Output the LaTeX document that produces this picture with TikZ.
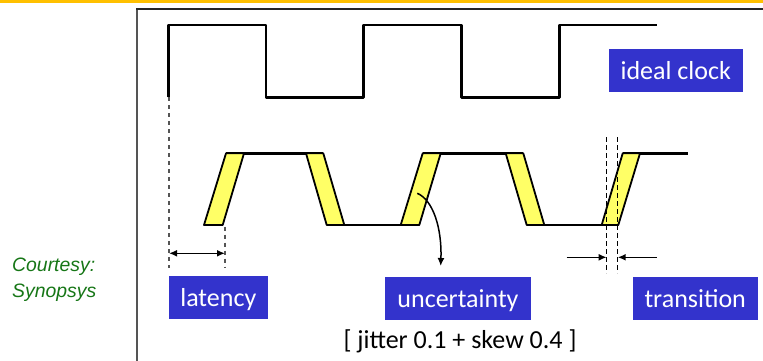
\documentclass[tikz,border=0pt]{standalone}
\usepackage{fontspec}
\setmainfont{Carlito}
\newfontfamily\creditfont{Liberation Sans}
\usetikzlibrary{arrows.meta}
\definecolor{labelblue}{RGB}{51,51,204}
\definecolor{edgeyellow}{RGB}{255,255,102}
\definecolor{topbar}{RGB}{255,192,0}
\definecolor{creditgreen}{RGB}{22,118,22}
\definecolor{framegray}{RGB}{85,85,85}
\begin{document}
\begin{tikzpicture}[x=1pt,y=-1pt,
  tag/.style={fill=labelblue,text=white,inner sep=0pt,minimum height=43pt,
    font=\fontsize{26}{30}\selectfont,text height=18pt,text depth=0pt},
  wave/.style={line width=2.6pt,line join=round},
  edgeband/.style={fill=edgeyellow,draw=black,line width=1.8pt,line join=round},
  guide/.style={draw=framegray,line width=1.4pt,dash pattern=on 4pt off 4pt},
  tguide/.style={draw=black,line width=1pt,dash pattern=on 5pt off 3pt},
  dim/.style={draw=black,line width=1.6pt},
  tip/.style={-{Latex[length=8pt,width=7pt]}}]
\useasboundingbox (0,0) rectangle (763,361);

% top bar and frame
\fill[topbar] (0,0) rectangle (763,3);
\draw[framegray,line width=2pt] (137,361) -- (137,9);
\draw[black!85,line width=1.3pt] (136,9) -- (763,9);

% ideal clock
\draw[wave] (168.3,97.3) -- (168.3,25) -- (266,25) -- (266,97.3) -- (363.3,97.3)
  -- (363.3,25) -- (461.7,25) -- (461.7,97.3) -- (559.3,97.3) -- (559.3,25) -- (656.7,25);
\node[tag,minimum width=133.7pt] (ideal) at (675.8,70.3) {ideal clock};

% real clock: levels
\draw[wave] (226,153.3) -- (323.3,153.3);
\draw[wave] (326.7,225) -- (419.3,225);
\draw[wave] (422.7,153.3) -- (523.3,153.3);
\draw[wave] (526.7,225) -- (618.3,225);
\draw[wave] (622.7,153.3) -- (688.3,153.3);

% real clock: uncertain edges
\draw[edgeband] (204,225) -- (222.7,225) -- (244,153.3) -- (226,153.3) -- cycle;
\draw[edgeband] (306,153.3) -- (323.3,153.3) -- (344.3,225) -- (326.7,225) -- cycle;
\draw[edgeband] (400.7,225) -- (419.3,225) -- (440.7,153.3) -- (422.7,153.3) -- cycle;
\draw[edgeband] (505.7,153.3) -- (523.3,153.3) -- (544.3,225) -- (526.7,225) -- cycle;
\draw[edgeband] (601.7,225) -- (618.3,225) -- (640,153.3) -- (622.7,153.3) -- cycle;

% latency
\coordinate (latA) at (169,253.3);
\coordinate (latB) at (225,253.3);
\draw[guide] (169,97.3) -- (169,268);
\draw[guide] (225,226.5) -- (225,268);
\draw[dim,{Latex[length=8pt,width=7pt]}-{Latex[length=8pt,width=7pt]}] (latA) -- (latB);
\node[tag,minimum width=98.7pt] (latency) at (218.3,297.5) {latency};

% uncertainty
\coordinate (uncStart) at (417.3,193.3);
\coordinate (uncEnd) at (440.7,266);
\draw[dim,line width=1.5pt,tip] (uncStart) .. controls (433,200) and (442,228) .. (uncEnd);
\node[tag,minimum width=146pt] (uncertainty) at (458,298.5) {uncertainty};

% transition
\coordinate (trL) at (606.7,257.3);
\coordinate (trR) at (617.7,257.3);
\coordinate (trLfrom) at (566.7,257.3);
\coordinate (trRfrom) at (656.7,257.3);
\draw[tguide] (606.7,137.3) -- (606.7,273.3);
\draw[tguide] (617.7,137.3) -- (617.7,273.3);
\draw[dim,tip] (trLfrom) -- (trL);
\draw[dim,tip] (trRfrom) -- (trR);
\node[tag,minimum width=125pt] (transition) at (695.2,298.5) {transition};

% budget note
\node[anchor=base,inner sep=0pt,font=\fontsize{26}{30}\selectfont] (budget) at (460,348)
  {[ jitter 0.1 + skew 0.4 ]};

% credit
\node[anchor=base west,inner sep=0pt,text=creditgreen,font=\creditfont\itshape\fontsize{19.4}{24}\selectfont]
  (credit1) at (12,271) {Courtesy:};
\node[anchor=base west,inner sep=0pt,text=creditgreen,font=\creditfont\itshape\fontsize{19.4}{24}\selectfont]
  (credit2) at (12,297) {Synopsys};
\end{tikzpicture}
\end{document}
